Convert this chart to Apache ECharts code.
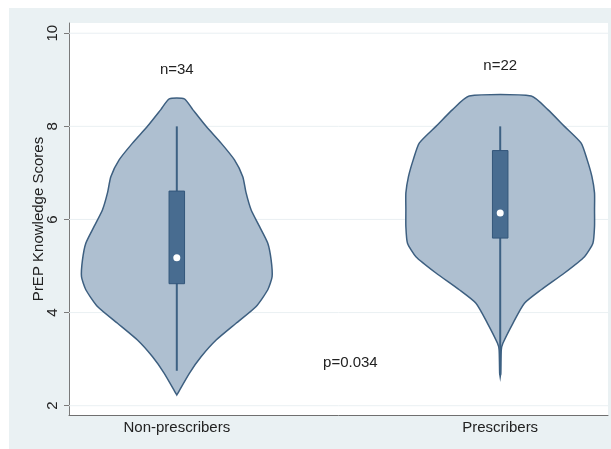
<!DOCTYPE html>
<html>
<head>
<meta charset="utf-8">
<script src="https://cdn.jsdelivr.net/npm/echarts@6/dist/echarts.min.js"></script>
<style>
  html, body { margin: 0; padding: 0; background: #fff; }
  #bg { position: absolute; left: 9px; top: 8px; width: 602px; height: 441px; background: #eaf1f3; }
  #chart { position: absolute; left: 0; top: 0; width: 611px; height: 449px; }
</style>
</head>
<body>
<div id="bg"></div>
<div id="chart"></div>
<script>
// groups and where they sit on the x axis (0..5)
const categories = ['Non-prescribers', 'Prescribers'];
const catX = [1, 4];

// violin outlines: score and half-width (x-axis units)
const npScore = [2.23, 2.70, 3.05, 3.41, 3.77, 4.13, 4.49, 4.77, 5.13, 5.49, 5.85, 6.21, 6.57, 6.92, 7.28, 7.64, 8.0, 8.36, 8.59];
const npHalfWidth = [0, 0.118, 0.225, 0.365, 0.550, 0.736, 0.844, 0.884, 0.875, 0.844, 0.767, 0.689, 0.643, 0.612, 0.535, 0.411, 0.272, 0.148, 0.070];
const prScore = [2.62, 2.70, 3.20, 3.34, 3.77, 4.20, 4.49, 4.85, 5.20, 5.49, 5.85, 6.21, 6.57, 6.92, 7.28, 7.64, 8.0, 8.36, 8.65];
const prHalfWidth = [0, 0.005, 0.010, 0.025, 0.118, 0.225, 0.380, 0.596, 0.782, 0.860, 0.875, 0.875, 0.875, 0.851, 0.807, 0.751, 0.596, 0.442, 0.288];

// box plot stats
const whiskerLow = [2.75, 2.66];
const q1 = [4.62, 5.60];
const median = [5.18, 6.14];
const q3 = [6.61, 7.48];
const whiskerHigh = [8.0, 8.0];

// y ticks
const yTicks = [2, 4, 6, 8, 10];

// annotations
const noteText = ['n=34', 'n=22', 'p=0.034'];
const noteX = [1, 4, 2.61];
const noteY = [9.22, 9.29, 2.93];

const FONT = 'Liberation Sans, Arial, sans-serif';
const profiles = [
  { score: npScore, hw: npHalfWidth },
  { score: prScore, hw: prHalfWidth }
];

let chart = echarts.init(document.getElementById('chart'));

let option = {
  animation: false,
  textStyle: { fontFamily: FONT },
  grid: {
    left: 69, right: 3, top: 23, bottom: 34,
    show: true, backgroundColor: '#fff', borderWidth: 0
  },
  xAxis: {
    type: 'value',
    min: 0, max: 5, interval: 1,
    axisLine: { lineStyle: { color: '#6f6f6f', width: 1 } },
    axisTick: { show: false },
    splitLine: { show: false },
    axisLabel: {
      color: '#222', fontSize: 15, margin: 5,
      formatter: v => {
        let i = catX.indexOf(v);
        return i >= 0 ? categories[i] : '';
      }
    }
  },
  yAxis: {
    type: 'value',
    min: 1.8, max: 10.22,
    name: 'PrEP Knowledge Scores',
    nameLocation: 'middle',
    nameGap: 23,
    nameMoveOverlap: false,
    nameTextStyle: { color: '#222', fontSize: 15 },
    axisLine: { show: true, lineStyle: { color: '#7a7a7a', width: 1 } },
    axisTick: { show: true, length: 5, customValues: yTicks, lineStyle: { color: '#7a7a7a' } },
    splitLine: { show: false },
    axisLabel: { customValues: yTicks, rotate: 90, color: '#222', fontSize: 15, margin: 9 }
  },
  series: [
    {
      // light grid lines
      type: 'custom',
      z: 1,
      silent: true,
      data: yTicks,
      renderItem: (params, api) => {
        let a = api.coord([0, api.value(0)]);
        let b = api.coord([5, api.value(0)]);
        return {
          type: 'line',
          shape: { x1: a[0], y1: a[1], x2: b[0], y2: b[1] },
          style: { stroke: '#eaf0f3', lineWidth: 1 }
        };
      }
    },
    {
      type: 'custom',
      name: 'violin',
      z: 2,
      silent: true,
      data: catX.map(x => [x]),
      renderItem: (params, api) => {
        let x = api.value(0);
        let p = profiles[params.dataIndex];
        let pts = [];
        for (let i = 0; i < p.score.length; i++) pts.push(api.coord([x + p.hw[i], p.score[i]]));
        for (let i = p.score.length - 1; i >= 0; i--) pts.push(api.coord([x - p.hw[i], p.score[i]]));
        return {
          type: 'polygon',
          shape: { points: pts, smooth: 0.2 },
          style: { fill: '#aebfd0', stroke: '#3d5f80', lineWidth: 1.5 }
        };
      }
    },
    {
      type: 'custom',
      name: 'box',
      z: 3,
      silent: true,
      data: catX.map((x, i) => [x, whiskerLow[i], q1[i], median[i], q3[i], whiskerHigh[i]]),
      renderItem: (params, api) => {
        let x = api.value(0);
        let lo = api.coord([x, api.value(1)]);
        let b1 = api.coord([x - 0.072, api.value(4)]);
        let b2 = api.coord([x + 0.072, api.value(2)]);
        let md = api.coord([x, api.value(3)]);
        let hi = api.coord([x, api.value(5)]);
        return {
          type: 'group',
          children: [
            {
              type: 'line',
              shape: { x1: lo[0], y1: lo[1], x2: hi[0], y2: hi[1] },
              style: { stroke: '#3d6183', lineWidth: 2 }
            },
            {
              type: 'rect',
              shape: { x: b1[0], y: b1[1], width: b2[0] - b1[0], height: b2[1] - b1[1] },
              style: { fill: '#486c90', stroke: '#33567a', lineWidth: 1 }
            },
            {
              type: 'circle',
              shape: { cx: md[0], cy: md[1], r: 3.5 },
              style: { fill: '#fff' }
            }
          ]
        };
      }
    },
    {
      type: 'custom',
      name: 'notes',
      z: 4,
      silent: true,
      data: noteX.map((x, i) => [x, noteY[i]]),
      renderItem: (params, api) => {
        let c = api.coord([api.value(0), api.value(1)]);
        return {
          type: 'text',
          x: c[0], y: c[1],
          style: {
            text: noteText[params.dataIndex],
            fill: '#222',
            font: '15px ' + FONT,
            textAlign: 'center',
            textVerticalAlign: 'middle'
          }
        };
      }
    }
  ]
};

chart.setOption(option);
</script>
</body>
</html>
